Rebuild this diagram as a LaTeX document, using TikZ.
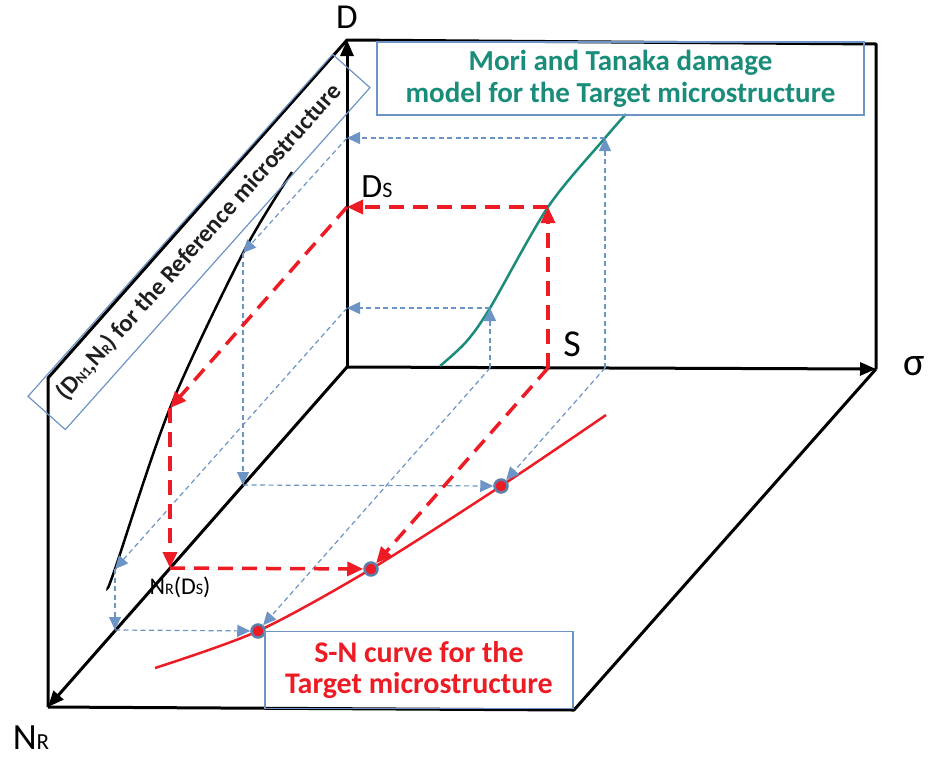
\documentclass[tikz,border=0pt]{standalone}
\usepackage{fontspec}
\setmainfont{Carlito}
\usetikzlibrary{arrows.meta}
\definecolor{refblue}{RGB}{108,148,198}
\definecolor{mtteal}{RGB}{26,140,122}
\definecolor{snred}{RGB}{237,28,36}
\newcommand{\lowsub}[2]{{\fontsize{#1}{#1}\selectfont #2}}

\begin{document}
\begin{tikzpicture}[x=1pt, y=-1pt,
    axisline/.style={line width=3pt, -{Triangle[length=16pt,width=13pt]}},
    frameline/.style={line width=3pt, line join=round},
    guideline/.style={refblue, line width=1.2pt, dash pattern=on 5pt off 3.5pt, -{Triangle[length=13pt,width=12pt]}},
    redpath/.style={snred, line width=3.5pt, dash pattern=on 15pt off 9pt, -{Triangle[length=16pt,width=14pt]}},
    sndot/.style={circle, fill=snred, draw=refblue!85!black, line width=2.5pt, minimum size=13pt, inner sep=0pt},
    lbox/.style={draw=refblue, line width=1.2pt, align=center, inner sep=0pt}]
    \useasboundingbox (0,0) rectangle (928,761);
    % frame corners
    \coordinate (O) at (347,367);
    \coordinate (Dtop) at (347,40);
    \coordinate (Rtop) at (876,44);
    \coordinate (Sig) at (876,369);
    \coordinate (Nend) at (48,707);
    \coordinate (Ltop) at (48,378);
    \coordinate (BR) at (574,710);
    \draw[frameline] (Nend) -- (Ltop) -- (Dtop) -- (Rtop) -- (Sig);
    \draw[frameline] (Nend) -- (BR) -- (Sig);
    \draw[axisline] (O) -- (Dtop);
    \draw[axisline] (O) -- (Sig);
    \draw[axisline] (O) -- (Nend);
    % axis labels
    \node[font=\fontsize{35}{35}\selectfont] (Dlab) at (347,17) {D};
    \node[font=\fontsize{40}{40}\selectfont] (Siglab) at (914,366) {σ};
    \node[font=\fontsize{37}{37}\selectfont] (NRlab) at (31,738) {N\lowsub{23}{R}};
    \node[font=\fontsize{34}{34}\selectfont] (DSlab) at (377,187) {D\lowsub{22}{S}};
    \node[font=\fontsize{38}{38}\selectfont] (Slab) at (572,344) {S};
    \node[font=\fontsize{24}{24}\selectfont] (NRDSlab) at (180,587) {N\lowsub{16}{R}(D\lowsub{16}{S})};
    % curves
    \draw[line width=2.5pt] plot[smooth] coordinates {(108,587) (115,569) (170,408) (243,253) (292,172)};
    \draw[mtteal, line width=2.5pt] plot[smooth] coordinates {(440,366) (466,342) (490,308) (548,207) (605,138) (626,114)};
    \draw[snred, line width=2.5pt] plot[smooth] coordinates {(155,668) (258,631) (371,569) (501,486) (606,415)};
    % points on the curves and axes
    \coordinate (T1) at (490,308);
    \coordinate (T2) at (605,138);
    \coordinate (TS) at (548,207);
    \coordinate (A1) at (347,308);
    \coordinate (A2) at (347,138);
    \coordinate (AS) at (347,207);
    \coordinate (L1) at (115,569);
    \coordinate (L2) at (243,253);
    \coordinate (LS) at (170,408);
    \coordinate (N1) at (115,630);
    \coordinate (N2) at (243,485);
    \coordinate (NS) at (170,568);
    \coordinate (s1) at (490,368);
    \coordinate (s2) at (605,368);
    \coordinate (sS) at (548,368);
    \node[sndot] (P1) at (258,631) {};
    \node[sndot] (P2) at (501,486) {};
    \node[sndot] (PS) at (371,569) {};
    % blue guides
    \draw[guideline] (s1) -- (T1);
    \draw[guideline] (T1) -- (A1);
    \draw[guideline] (A1) -- (L1);
    \draw[guideline] (L1) -- (N1);
    \draw[guideline] (N1) -- (P1);
    \draw[guideline] (s1) -- (P1);
    \draw[guideline] (s2) -- (T2);
    \draw[guideline] (T2) -- (A2);
    \draw[guideline] (A2) -- (L2);
    \draw[guideline] (L2) -- (N2);
    \draw[guideline] (N2) -- (P2);
    \draw[guideline] (s2) -- (P2);
    % red path from S
    \draw[redpath] (sS) -- (TS);
    \draw[redpath] (TS) -- (AS);
    \draw[redpath] (AS) -- (LS);
    \draw[redpath] (LS) -- (NS);
    \draw[redpath] (NS) -- (PS);
    \draw[redpath] (sS) -- (PS);
    % boxes
    \node[lbox, text=mtteal, minimum width=487pt, minimum height=73pt,
        font=\bfseries\fontsize{29}{32}\selectfont] (MTbox) at (620.5,78.5)
        {Mori and Tanaka damage\\model for the Target microstructure};
    \node[lbox, text=snred, minimum width=308pt, minimum height=77pt,
        font=\bfseries\fontsize{30}{31}\selectfont] (SNbox) at (419,670)
        {S-N curve for the\\Target microstructure};
    \node[lbox, text=black!88, minimum width=458pt, minimum height=50pt, rotate=48.3,
        font=\bfseries\fontsize{24.5}{25}\selectfont] (RFbox) at (199,242)
        {(D\lowsub{14}{N1},N\lowsub{14}{R}) for the Reference microstructure};
\end{tikzpicture}
\end{document}
